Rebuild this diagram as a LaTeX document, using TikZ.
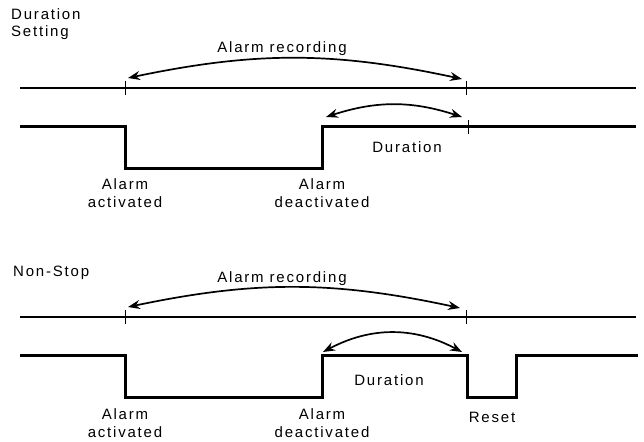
\documentclass[tikz,border=0pt]{standalone}
\usepackage{fontspec}
\setmainfont{Liberation Sans}[LetterSpace=12]
\usetikzlibrary{arrows.meta}
\begin{document}
\begin{tikzpicture}[x=1pt,y=-1pt,
  lbl/.style={font=\fontsize{15}{17}\selectfont, inner sep=0pt, align=center},
  axis/.style={line width=2pt},
  sig/.style={line width=3pt, line join=miter},
  tick/.style={line width=1pt},
  arc/.style={line width=1.7pt, {Stealth[length=12pt,width=9pt,inset=4pt]}-{Stealth[length=12pt,width=9pt,inset=4pt]}}
]
\useasboundingbox (0,0) rectangle (644,441);
% ---------- top: Duration Setting ----------
\node[lbl, anchor=north west, align=left] (ds) at (11,8) {Duration\\[0pt]Setting};
\coordinate (a1l) at (20,88);
\coordinate (a1r) at (636,88);
\draw[axis] (a1l) -- (a1r);
\draw[tick] (125,81) -- (125,95);
\draw[tick] (466,81) -- (466,95);
\coordinate (r1s) at (128,78);
\coordinate (r1e) at (462,79);
\draw[arc] (r1s) to[bend left=12] (r1e);
\node[lbl] (ar1) at (282,49) {Alarm recording};
% signal
\coordinate (s1a) at (20,126);
\coordinate (s1b) at (125,126);
\coordinate (s1c) at (125,168);
\coordinate (s1d) at (322,168);
\coordinate (s1e) at (322,126);
\coordinate (s1f) at (636,126);
\draw[sig] (s1a) -- (s1b) -- (s1c) -- (s1d) -- (s1e) -- (s1f);
\draw[tick] (468,120) -- (468,134);
\coordinate (d1s) at (326,117);
\coordinate (d1e) at (462,117);
\draw[arc] (d1s) to[bend left=18] (d1e);
\node[lbl] (du1) at (407,147) {Duration};
\node[lbl] (aa1) at (125,193) {Alarm\\[1pt]activated};
\node[lbl] (ad1) at (322,193) {Alarm\\[1pt]deactivated};
% ---------- bottom: Non-Stop ----------
\node[lbl, anchor=west] (ns) at (13,273) {Non-Stop};
\coordinate (a2l) at (20,317);
\coordinate (a2r) at (636,317);
\draw[axis] (a2l) -- (a2r);
\draw[tick] (125,310) -- (125,324);
\draw[tick] (466,310) -- (466,324);
\coordinate (r2s) at (128,307);
\coordinate (r2e) at (460,308);
\draw[arc] (r2s) to[bend left=12] (r2e);
\node[lbl] (ar2) at (282,279) {Alarm recording};
\coordinate (s2a) at (20,355);
\coordinate (s2b) at (125,355);
\coordinate (s2c) at (125,397);
\coordinate (s2d) at (322,397);
\coordinate (s2e) at (322,355);
\coordinate (s2f) at (467,355);
\coordinate (s2g) at (467,397);
\coordinate (s2h) at (516,397);
\coordinate (s2i) at (516,355);
\coordinate (s2j) at (638,355);
\draw[sig] (s2a) -- (s2b) -- (s2c) -- (s2d) -- (s2e) -- (s2f) -- (s2g) -- (s2h) -- (s2i) -- (s2j);
\coordinate (d2s) at (323,352);
\coordinate (d2e) at (462,352);
\draw[arc] (d2s) to[bend left=28] (d2e);
\node[lbl] (du2) at (389,380) {Duration};
\node[lbl] (rs) at (492,417) {Reset};
\node[lbl] (aa2) at (125,423) {Alarm\\[1pt]activated};
\node[lbl] (ad2) at (322,423) {Alarm\\[1pt]deactivated};
\end{tikzpicture}
\end{document}
